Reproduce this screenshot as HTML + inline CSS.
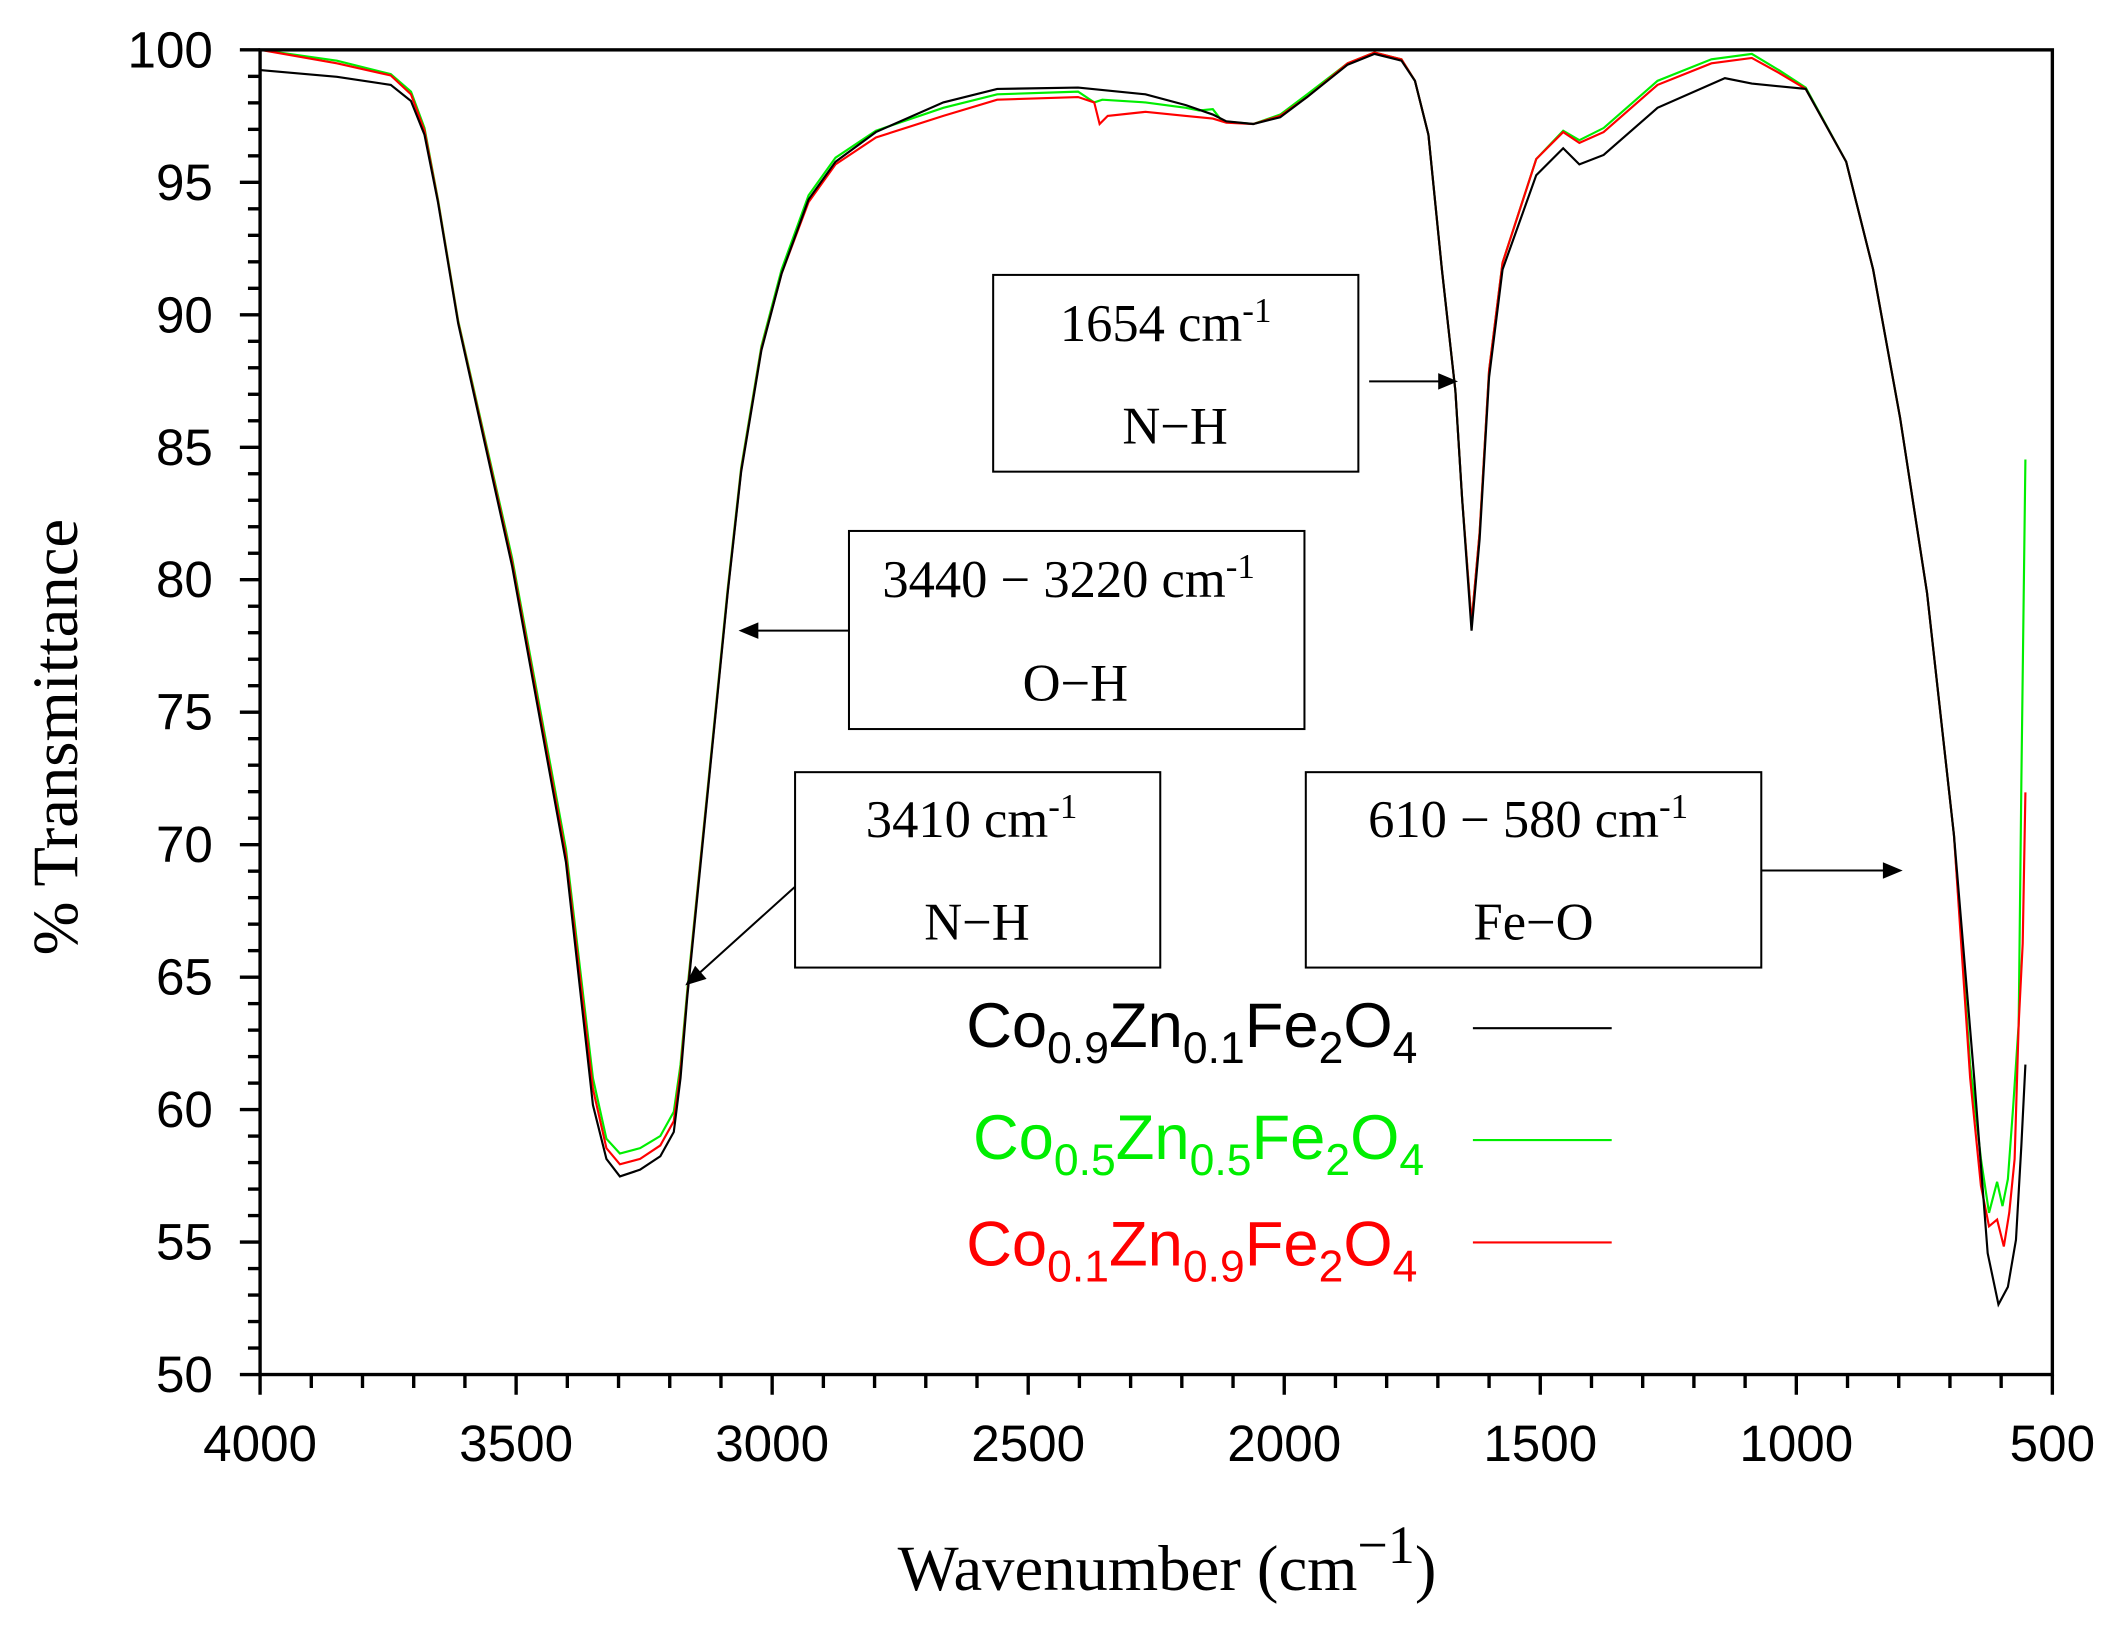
<!DOCTYPE html>
<html><head><meta charset="utf-8"><style>
html,body{margin:0;padding:0;background:#fff;}
svg{display:block;}
.tk{font-family:"Liberation Sans",Arial,sans-serif;font-size:38px;fill:#000;}
.tm{font-family:"Liberation Serif","Times New Roman",serif;fill:#000;}
.lg{font-family:"Liberation Sans",Arial,sans-serif;font-size:47px;}
</style></head><body>
<svg width="2113" height="1626" viewBox="0 0 1568 1206.6" xmlns="http://www.w3.org/2000/svg">
<rect width="1568" height="1207" fill="#fff"/>
<g id="ticks" stroke="#000" stroke-width="2.5" fill="none"></g>
<polyline fill="none" stroke="#00ee00" stroke-width="1.6" points="193,37 250,45 290,55 305,68 315,95 325,148 340,238 360,326 380,414 400,522 420,630 440,800 450,845 460,856 475,852 490,843 500,825 505,790 510,735 520,636 530,537 540,437 550,347 565,257 580,200 600,145 620,117 650,97 700,80 740,70 800,68 812,76 818,74 850,76 880,80 890,82 900,81 907,90 930,92 950,85 970,70 1000,47 1020,39 1040,44 1050,60 1060,100 1070,200 1080,290 1085,370 1092,462 1098,395 1105,275 1115,195 1140,118 1160,97 1172,104 1190,95 1230,60 1270,44 1300,40 1320,52 1340,65 1370,120 1390,200 1410,310 1430,440 1450,620 1462,790 1470,860 1476,900 1482,877 1486,895 1490,875 1494,820 1498,760 1500,580 1503,341"/>
<polyline fill="none" stroke="#ff0000" stroke-width="1.6" points="193,37 250,47 290,56 305,70 315,97 325,149 340,239 360,328 380,417 400,526 420,635 440,808 450,852 460,864 475,860 490,850 500,832 505,795 510,738 520,638 530,539 540,439 550,349 565,259 580,203 600,150 620,122 650,102 700,86 740,74 800,72 812,76 816,92 822,86 850,83 880,86 900,88 910,91 930,92 950,86 970,72 1000,47 1020,39 1040,44 1050,60 1060,100 1070,200 1080,290 1085,370 1092,462 1098,395 1105,275 1115,195 1140,118 1160,98 1172,106 1190,98 1230,63 1270,47 1300,43 1320,54 1340,66 1370,120 1390,200 1410,310 1430,440 1450,620 1462,800 1470,880 1476,910 1482,905 1487,925 1491,900 1495,860 1498,760 1501,700 1503,588"/>
<polyline fill="none" stroke="#000" stroke-width="1.6" points="193,52 250,57 290,63 305,75 315,100 325,150 340,240 360,330 380,420 400,530 420,640 440,820 450,860 460,873 475,868 490,858 500,840 505,800 510,740 520,640 530,540 540,440 550,350 565,260 580,203 600,148 620,120 650,98 700,76 740,66 800,65 850,70 880,78 900,85 910,90 930,92 950,87 970,72 1000,48 1020,40 1040,45 1050,60 1060,100 1070,200 1080,290 1085,370 1092,468 1098,400 1105,280 1115,200 1140,130 1160,110 1172,122 1190,115 1230,80 1280,58 1300,62 1340,66 1370,120 1390,200 1410,310 1430,440 1450,620 1465,800 1475,930 1483,968 1490,955 1496,920 1500,850 1503,790"/>
<rect x="193" y="37" width="1330" height="983" fill="none" stroke="#000" stroke-width="2.5"/>
<g fill="#fff" stroke="#000" stroke-width="1.5">
<rect x="737" y="204" width="271" height="146"/>
<rect x="630" y="394" width="338" height="147"/>
<rect x="590" y="573" width="271" height="145"/>
<rect x="969" y="573" width="338" height="145"/>
</g>
<g stroke="#000" stroke-width="1.5" fill="#000">
<line x1="1016" y1="283" x2="1070" y2="283"/><polygon points="1080,283 1068,278 1068,288"/>
<line x1="630" y1="468" x2="561" y2="468"/><polygon points="550,468 562,463 562,473"/>
<line x1="590" y1="658" x2="518" y2="723"/><polygon points="510,730 516,718 523,726"/>
<line x1="1307" y1="646" x2="1400" y2="646"/><polygon points="1410,646 1398,641 1398,651"/>
</g>
<g class="tm" font-size="39" text-anchor="middle">
<text x="865" y="253">1654 cm<tspan dy="-14" font-size="26">-1</tspan></text>
<text x="872" y="329">N−H</text>
<text x="793" y="443">3440 − 3220 cm<tspan dy="-14" font-size="26">-1</tspan></text>
<text x="798" y="520">O−H</text>
<text x="721" y="621">3410 cm<tspan dy="-14" font-size="26">-1</tspan></text>
<text x="725" y="697">N−H</text>
<text x="1134" y="621">610 − 580 cm<tspan dy="-14" font-size="26">-1</tspan></text>
<text x="1138" y="697">Fe−O</text>
</g>
<g class="lg">
<text x="717" y="777" fill="#000">Co<tspan font-size="33" dy="12">0.9</tspan><tspan dy="-12">Zn</tspan><tspan font-size="33" dy="12">0.1</tspan><tspan dy="-12">Fe</tspan><tspan font-size="33" dy="12">2</tspan><tspan dy="-12">O</tspan><tspan font-size="33" dy="12">4</tspan></text>
<text x="722" y="860" fill="#00ee00">Co<tspan font-size="33" dy="12">0.5</tspan><tspan dy="-12">Zn</tspan><tspan font-size="33" dy="12">0.5</tspan><tspan dy="-12">Fe</tspan><tspan font-size="33" dy="12">2</tspan><tspan dy="-12">O</tspan><tspan font-size="33" dy="12">4</tspan></text>
<text x="717" y="939" fill="#ff0000">Co<tspan font-size="33" dy="12">0.1</tspan><tspan dy="-12">Zn</tspan><tspan font-size="33" dy="12">0.9</tspan><tspan dy="-12">Fe</tspan><tspan font-size="33" dy="12">2</tspan><tspan dy="-12">O</tspan><tspan font-size="33" dy="12">4</tspan></text>
</g>
<line x1="1093" y1="763" x2="1196" y2="763" stroke="#000" stroke-width="1.6"/>
<line x1="1093" y1="846" x2="1196" y2="846" stroke="#00ee00" stroke-width="1.6"/>
<line x1="1093" y1="922" x2="1196" y2="922" stroke="#ff0000" stroke-width="1.6"/>
<g class="tk" text-anchor="end" id="ylab"></g>
<g class="tk" text-anchor="middle" id="xlab"></g>
<text class="tm" font-size="48" transform="translate(57,547) rotate(-90)" text-anchor="middle">% Transmittance</text>
<text class="tm" font-size="48" x="866" y="1180" text-anchor="middle">Wavenumber (cm<tspan dy="-20" font-size="40">−1</tspan><tspan dy="20">)</tspan></text>
<script>
(function(){
var ns="http://www.w3.org/2000/svg",t=document.getElementById("ticks"),yl=document.getElementById("ylab"),xl=document.getElementById("xlab");
function ln(x1,y1,x2,y2){var l=document.createElementNS(ns,"line");l.setAttribute("x1",x1);l.setAttribute("y1",y1);l.setAttribute("x2",x2);l.setAttribute("y2",y2);t.appendChild(l);}
for(var v=50;v<=100;v++){var y=37+(100-v)*19.66;var maj=v%5==0;ln(193,y,maj?178:184,y);
if(maj){var s=document.createElementNS(ns,"text");s.setAttribute("x",158);s.setAttribute("y",y+13);s.textContent=v;yl.appendChild(s);}}
for(var w=4000;w>=500;w-=100){var x=193+(4000-w)*0.38;var maj=w%500==0;ln(x,1020,x,maj?1035:1030);
if(maj){var s=document.createElementNS(ns,"text");s.setAttribute("x",x);s.setAttribute("y",1084);s.textContent=w;xl.appendChild(s);}}
})();
</script>
</svg>
</body></html>
